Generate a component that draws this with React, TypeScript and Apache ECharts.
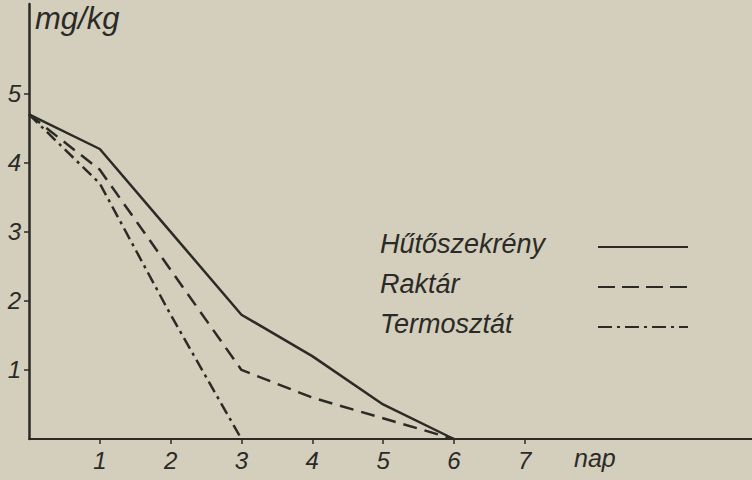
import React, { useEffect, useRef } from "react";
import * as echarts from "echarts";

const days = [0, 1, 2, 3, 4, 5, 6];
const hutoszekreny = [4.7, 4.2, 3.0, 1.8, 1.2, 0.5, 0];
const raktar = [4.7, 3.9, 2.45, 1.0, 0.6, 0.3, 0];
const termosztat = [4.7, 3.7, 1.8, 0];
const xTicks = [1, 2, 3, 4, 5, 6, 7];
const yTicks = [1, 2, 3, 4, 5];
const seriesNames = ["Hűtőszekrény", "Raktár", "Termosztát"];

const INK = "#2b2a26";
const BG = "#d3cfbc";
const FONT = "Liberation Sans";

export default function App() {
  const ref = useRef<HTMLDivElement>(null);
  useEffect(() => {
    if (!ref.current) return;
    const chart = echarts.init(ref.current, undefined, { renderer: "svg" });
    const pairs = (vals: number[]) => vals.map((v, i) => [days[i], v]);
    const legendY = [246, 286, 326];
    const dashes: any[] = ["solid", [14, 8], [12, 5, 3, 5]];
    const legendDashes: any[] = [null, [17, 7], [14, 5, 3, 5]];
    chart.setOption({
      animation: false,
      backgroundColor: BG,
      grid: { left: 29, right: 0, top: 4, bottom: 41, containLabel: false },
      xAxis: {
        type: "value",
        min: 0,
        max: 10.21,
        splitLine: { show: false },
        axisLine: { show: true, lineStyle: { color: INK, width: 2 } },
        axisTick: { show: true, customValues: xTicks, length: 5, lineStyle: { color: INK, width: 1.5 } },
        axisLabel: {
          customValues: xTicks,
          color: INK,
          fontFamily: FONT,
          fontStyle: "italic",
          fontSize: 24,
          margin: 9,
        },
      },
      yAxis: {
        type: "value",
        min: 0,
        max: 6.3,
        splitLine: { show: false },
        axisLine: { show: true, lineStyle: { color: INK, width: 2.5 } },
        axisTick: { show: true, customValues: yTicks, length: 5, lineStyle: { color: INK, width: 1.5 } },
        axisLabel: {
          customValues: yTicks,
          color: INK,
          fontFamily: FONT,
          fontStyle: "italic",
          fontSize: 24,
          margin: 8,
        },
      },
      series: [
        { name: seriesNames[0], data: pairs(hutoszekreny), lineStyle: { type: dashes[0] } },
        { name: seriesNames[1], data: pairs(raktar), lineStyle: { type: dashes[1] } },
        { name: seriesNames[2], data: pairs(termosztat), lineStyle: { type: dashes[2] } },
      ].map((s) => ({
        ...s,
        type: "line",
        symbol: "none",
        lineStyle: { ...s.lineStyle, color: INK, width: 2.5 },
      })),
      graphic: [
        {
          type: "text",
          left: 35,
          top: 3,
          style: { text: "mg/kg", fill: INK, font: `italic 31px ${FONT}` },
        },
        {
          type: "text",
          left: 574,
          top: 445,
          style: { text: "nap", fill: INK, font: `italic 25px ${FONT}` },
        },
        ...seriesNames.flatMap((n, i) => [
          {
            type: "text",
            left: 380,
            top: legendY[i] - 16,
            style: { text: n, fill: INK, font: `italic 27px ${FONT}` },
          },
          {
            type: "line",
            shape: { x1: 598, y1: legendY[i] + 1, x2: 688, y2: legendY[i] + 1 },
            style: { stroke: INK, lineWidth: 2.2, lineDash: legendDashes[i] },
          },
        ]),
      ],
    });
    return () => chart.dispose();
  }, []);
  return (
    <div
      ref={ref}
      style={{ position: "fixed", left: 0, top: 0, width: 752, height: 480 }}
    />
  );
}
